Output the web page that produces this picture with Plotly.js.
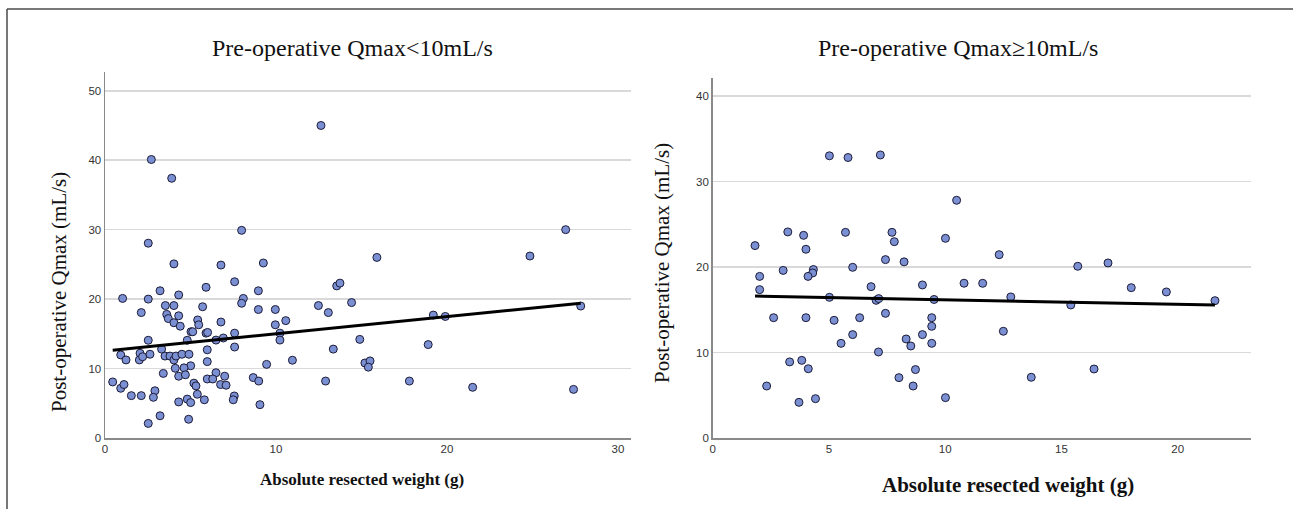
<!DOCTYPE html>
<html>
<head>
<meta charset="utf-8">
<script src="https://cdn.plot.ly/plotly-3.0.1.min.js"></script>
<style>html,body{margin:0;padding:0;background:#fff;}#chart{width:1293px;height:509px;}</style>
</head>
<body>
<div id="chart"></div>
<script>
// Pre-operative Qmax < 10 mL/s
const lowX = [
  4.03, 6.78, 9.26, 15.9, 7.58, 5.91, 3.22, 4.31, 1.03, 2.53,
  8.09, 7.99, 8.97, 13.55, 13.74, 12.48, 14.42, 13.06, 2.12, 3.53,
  4.03, 5.71, 8.97, 9.96, 3.61, 3.70, 4.31, 4.03, 4.40, 5.42,
  5.48, 6.78, 10.57, 9.96, 5.03, 5.13, 5.91, 6.0, 7.58, 10.23,
  10.23, 2.53, 4.81, 6.49, 6.92, 14.9, 3.31, 5.98, 7.58, 13.35,
  0.92, 1.23, 2.05, 2.01, 2.20, 2.63, 3.51, 3.8, 4.03, 4.15,
  4.5, 4.91, 5.98, 10.96, 9.45, 5.01, 4.62, 4.11, 3.41, 4.31,
  4.7, 6.49, 7.0, 5.98, 6.3, 8.67, 8.99, 5.2, 5.32, 6.76,
  7.08, 12.9, 15.2, 15.5, 15.4, 0.45, 0.92, 1.11, 1.54, 2.12,
  2.92, 2.83, 5.4, 5.81, 7.56, 7.5, 4.81, 5.01, 4.31, 9.06,
  2.53, 3.22, 4.89, 2.71, 3.9, 12.63, 7.99, 2.53, 26.94, 24.85,
  27.82, 19.2, 19.9, 18.9, 17.8, 21.5, 27.4
];
const lowY = [
  25.07, 24.9, 25.2, 26.0, 22.5, 21.7, 21.2, 20.6, 20.1, 20.0,
  20.1, 19.4, 21.2, 21.9, 22.3, 19.07, 19.5, 18.06, 18.06, 19.07,
  19.07, 18.9, 18.5, 18.5, 17.8, 17.2, 17.6, 16.6, 16.1, 17.0,
  16.3, 16.7, 16.9, 16.3, 15.3, 15.3, 15.1, 15.2, 15.1, 15.1,
  14.1, 14.07, 14.07, 14.1, 14.4, 14.2, 12.8, 12.7, 13.1, 12.8,
  11.96, 11.24, 12.2, 11.24, 11.7, 12.06, 11.8, 11.8, 11.24, 11.8,
  12.06, 12.06, 11.0, 11.2, 10.6, 10.4, 10.1, 10.04, 9.3, 8.9,
  9.1, 9.4, 8.9, 8.5, 8.5, 8.7, 8.2, 7.9, 7.5, 7.7,
  7.6, 8.2, 10.8, 11.1, 10.2, 8.07, 7.16, 7.7, 6.1, 6.1,
  6.8, 5.86, 6.3, 5.5, 6.05, 5.5, 5.6, 5.1, 5.2, 4.8,
  2.1, 3.2, 2.7, 40.1, 37.4, 45.0, 29.9, 28.05, 30.0, 26.2,
  19.0, 17.7, 17.5, 13.45, 8.2, 7.3, 7.0
];
const lowFitX = [0.45, 27.82];
const lowFitY = [12.65, 19.4];

// Pre-operative Qmax >= 10 mL/s
const highX = [
  5.02, 5.82, 7.21, 10.49, 3.23, 3.91, 4.01, 1.82, 5.71, 7.71,
  7.81, 10.01, 2.02, 2.02, 3.03, 4.33, 4.30, 4.10, 6.02, 7.43,
  8.23, 6.81, 9.02, 10.81, 5.02, 7.03, 7.14, 9.52, 2.62, 4.01,
  5.22, 6.32, 7.43, 9.42, 9.42, 6.02, 9.02, 5.52, 8.32, 8.52,
  9.42, 7.13, 3.31, 3.83, 4.11, 8.72, 8.01, 8.62, 2.32, 3.71,
  4.42, 10.01,
  12.32, 11.61, 12.82, 12.5, 15.7, 17.0, 15.4, 18.0, 19.51, 21.6, 13.7, 16.4
];
const highY = [
  33.0, 32.8, 33.1, 27.8, 24.1, 23.7, 22.07, 22.5, 24.05, 24.05,
  22.96, 23.35, 18.9, 17.35, 19.6, 19.7, 19.3, 18.9, 19.96, 20.86,
  20.6, 17.7, 17.9, 18.1, 16.45, 16.1, 16.3, 16.2, 14.07, 14.07,
  13.76, 14.07, 14.58, 14.07, 13.06, 12.09, 12.09, 11.07, 11.58, 10.76,
  11.07, 10.06, 8.9, 9.08, 8.1, 8.0, 7.06, 6.08, 6.08, 4.17,
  4.6, 4.72,
  21.44, 18.09, 16.5, 12.48, 20.08, 20.47, 15.56, 17.58, 17.08, 16.06, 7.1, 8.07
];
const highFitX = [1.82, 21.6];
const highFitY = [16.6, 15.55];

const lowXTicks = [0, 10, 20, 30];
const lowYTicks = [0, 10, 20, 30, 40, 50];
const highXTicks = [0, 5, 10, 15, 20];
const highYTicks = [0, 10, 20, 30, 40];

const titles = {
  low: 'Pre-operative Qmax<10mL/s',
  high: 'Pre-operative Qmax≥10mL/s',
  xTitle: 'Absolute resected weight (g)',
  yTitle: 'Post-operative Qmax (mL/s)'
};

const W = 1293, H = 509;
const px = v => v / W;
const py = v => 1 - v / H;

const marker = {size: 8, color: '#7b8fd3', line: {color: '#1c1c38', width: 1}};
const serif = '"Liberation Serif", "Times New Roman", serif';
const sans = '"Liberation Sans", Arial, sans-serif';

const traces = [
  {x: lowX, y: lowY, type: 'scatter', mode: 'markers', marker: marker, xaxis: 'x', yaxis: 'y', hoverinfo: 'x+y'},
  {x: lowFitX, y: lowFitY, type: 'scatter', mode: 'lines', line: {color: '#000', width: 3}, xaxis: 'x', yaxis: 'y'},
  {x: highX, y: highY, type: 'scatter', mode: 'markers', marker: marker, xaxis: 'x2', yaxis: 'y2', hoverinfo: 'x+y'},
  {x: highFitX, y: highFitY, type: 'scatter', mode: 'lines', line: {color: '#000', width: 3}, xaxis: 'x2', yaxis: 'y2'}
];

function xAxis(domain, range, ticks, anchor) {
  return {
    domain: domain, range: range, anchor: anchor,
    tickvals: ticks, ticktext: ticks.map(String),
    showgrid: false, zeroline: false,
    showline: true, linecolor: '#8a8a8a', linewidth: 1.5,
    ticks: '', tickfont: {family: sans, size: 11.5, color: '#333'}, fixedrange: true
  };
}
function yAxis(domain, range, ticks, anchor) {
  return {
    domain: domain, range: range, anchor: anchor,
    tickvals: ticks, ticktext: ticks.map(String),
    showgrid: true, gridcolor: '#d9d9d9', gridwidth: 1.5, zeroline: false,
    showline: true, linecolor: '#8a8a8a', linewidth: 1.5,
    ticks: '', tickfont: {family: sans, size: 11.5, color: '#333'}, fixedrange: true
  };
}

const layout = {
  width: W, height: H,
  margin: {l: 0, r: 0, t: 0, b: 0},
  paper_bgcolor: '#fff', plot_bgcolor: '#fff',
  showlegend: false,
  xaxis: xAxis([px(105), px(631)], [0, 30.76], lowXTicks, 'y'),
  yaxis: yAxis([py(438), py(72)], [0, 52.7], lowYTicks, 'x'),
  xaxis2: xAxis([px(712.7), px(1251)], [0, 23.15], highXTicks, 'y2'),
  yaxis2: yAxis([py(438), py(78)], [0, 42.1], highYTicks, 'x2'),
  annotations: [
    {text: titles.low, xref: 'paper', yref: 'paper', x: px(352), y: py(48), xanchor: 'center', yanchor: 'middle', showarrow: false, font: {family: serif, size: 24, color: '#111'}},
    {text: titles.high, xref: 'paper', yref: 'paper', x: px(958), y: py(48), xanchor: 'center', yanchor: 'middle', showarrow: false, font: {family: serif, size: 24, color: '#111'}},
    {text: titles.yTitle, xref: 'paper', yref: 'paper', x: px(59), y: py(292), xanchor: 'center', yanchor: 'middle', textangle: -90, showarrow: false, font: {family: serif, size: 21, color: '#111'}},
    {text: titles.yTitle, xref: 'paper', yref: 'paper', x: px(662), y: py(263), xanchor: 'center', yanchor: 'middle', textangle: -90, showarrow: false, font: {family: serif, size: 21, color: '#111'}},
    {text: '<b>' + titles.xTitle + '</b>', xref: 'paper', yref: 'paper', x: px(362), y: py(479), xanchor: 'center', yanchor: 'middle', showarrow: false, font: {family: serif, size: 17, color: '#111'}},
    {text: '<b>' + titles.xTitle + '</b>', xref: 'paper', yref: 'paper', x: px(1008), y: py(485), xanchor: 'center', yanchor: 'middle', showarrow: false, font: {family: serif, size: 21, color: '#111'}}
  ],
  shapes: [
    {type: 'line', xref: 'paper', yref: 'paper', x0: px(7), x1: 1, y0: py(9), y1: py(9), line: {color: '#4a4a4a', width: 1.5}},
    {type: 'line', xref: 'paper', yref: 'paper', x0: px(7), x1: px(7), y0: py(9), y1: 0, line: {color: '#4a4a4a', width: 1.5}}
  ]
};

Plotly.newPlot('chart', traces, layout, {displayModeBar: false, staticPlot: true});
</script>
</body>
</html>
